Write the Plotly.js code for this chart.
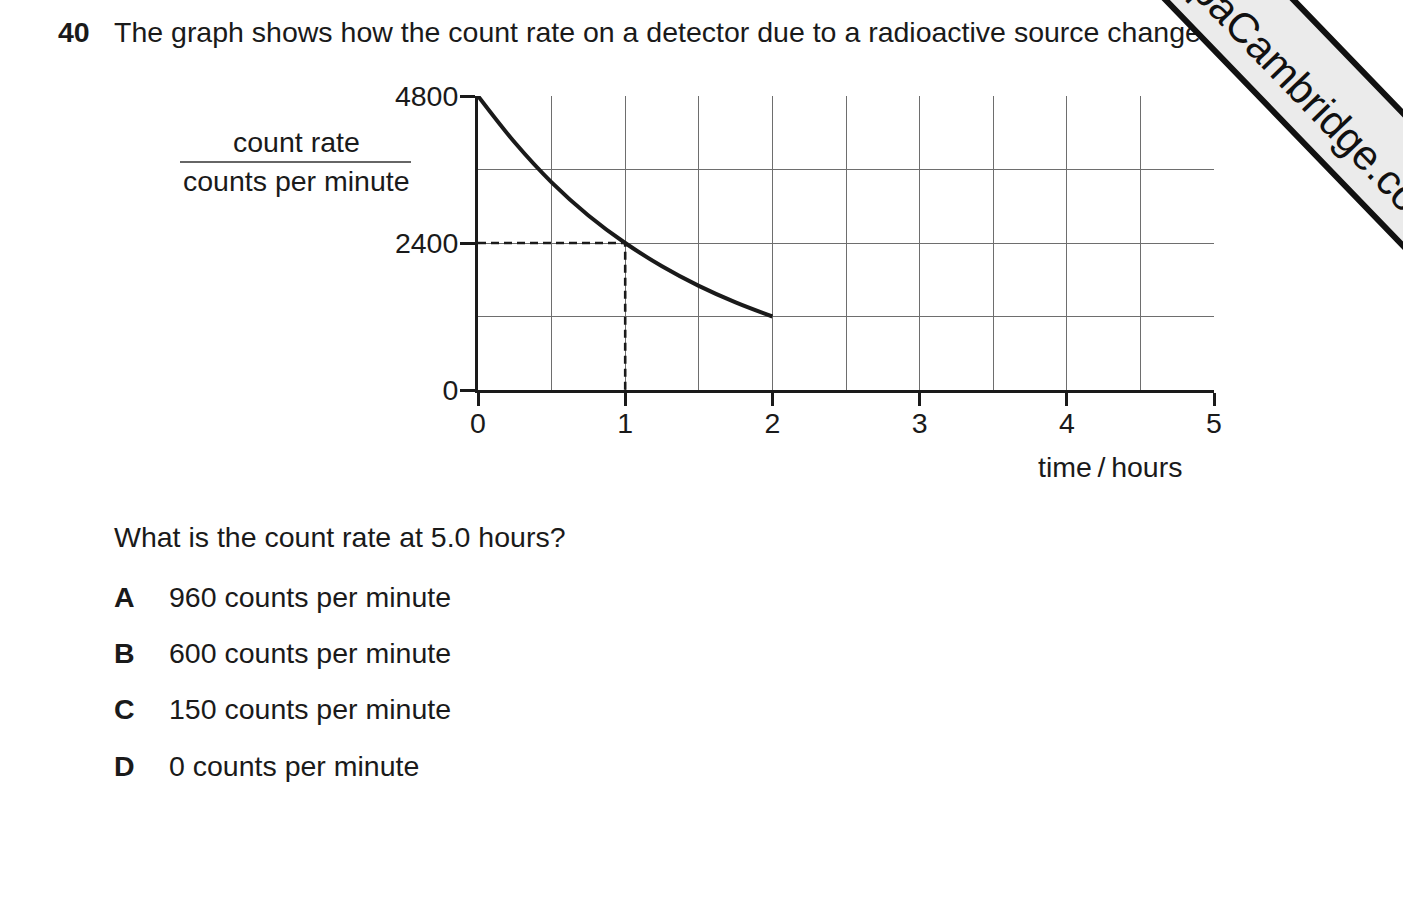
<!DOCTYPE html>
<html>
<head>
<meta charset="utf-8">
<script src="https://cdn.plot.ly/plotly-3.0.1.min.js"></script>
<style>
html,body{margin:0;padding:0;background:#fff;}
#chart{width:1403px;height:907px;}
</style>
</head>
<body>
<div id="chart"></div>
<script>
// Data
const timeHours = [0, 0.25, 0.5, 0.75, 1, 1.25, 1.5, 1.75, 2];
const countRate = [4800, 4040, 3390, 2850, 2400, 2020, 1700, 1430, 1200];
const guideX = [0, 1, 1];
const guideY = [2400, 2400, 0];
const xTickVals = [0, 1, 2, 3, 4, 5];
const yTickVals = [0, 2400, 4800];
const questionNumber = "40";
const questionText = "The graph shows how the count rate on a detector due to a radioactive source changes with";
const yLabelTop = "count rate";
const yLabelBottom = "counts per minute";
const xLabel = "time\u2009/\u2009hours";
const prompt = "What is the count rate at 5.0 hours?";
const optionLetters = ["A", "B", "C", "D"];
const optionTexts = ["960 counts per minute", "600 counts per minute", "150 counts per minute", "0 counts per minute"];
const watermark = "PapaCambridge.com";

// pixel -> paper helpers (plot area 478..1214 x, 96..390 y)
const L = 478, R = 1214, T = 96, B = 390;
const px = v => (v - L) / (R - L);
const py = v => (B - v) / (B - T);

const FONT = '"Liberation Sans", Arial, Helvetica, sans-serif';
const INK = '#1a1a1a';
const FS = 28.5;
const GRID = '#6e6e6e';

const traces = [
  {
    x: guideX, y: guideY, mode: 'lines', type: 'scatter',
    line: {color: INK, width: 2.6, dash: '8px,5px'}, hoverinfo: 'skip'
  },
  {
    x: timeHours, y: countRate, mode: 'lines', type: 'scatter',
    line: {color: INK, width: 4, shape: 'spline'}, hoverinfo: 'skip'
  }
];

const optYs = [597, 653, 709, 766];
const annotations = [
  {text: '<b>' + questionNumber + '</b>', x: px(57), y: py(32), xanchor: 'left', yanchor: 'middle'},
  {text: questionText, x: px(113), y: py(32), xanchor: 'left', yanchor: 'middle'},
  {text: yLabelTop, x: px(296), y: py(142), xanchor: 'center', yanchor: 'middle'},
  {text: yLabelBottom, x: px(296), y: py(181), xanchor: 'center', yanchor: 'middle'},
  {text: xLabel, x: px(1110), y: py(467), xanchor: 'center', yanchor: 'middle'},
  {text: prompt, x: px(113), y: py(537), xanchor: 'left', yanchor: 'middle'}
];
optionLetters.forEach((l, i) => {
  annotations.push({text: '<b>' + l + '</b>', x: px(113), y: py(optYs[i]), xanchor: 'left', yanchor: 'middle'});
  annotations.push({text: optionTexts[i], x: px(168), y: py(optYs[i]), xanchor: 'left', yanchor: 'middle'});
});
annotations.forEach(a => {
  a.xref = 'paper'; a.yref = 'paper'; a.showarrow = false;
  a.font = {family: FONT, size: FS, color: INK};
  a.borderpad = 0;
});
// watermark band (drawn after the title so it covers it)
annotations.push({
  text: '\u00a0', xref: 'paper', yref: 'paper', x: px(1333), y: py(107),
  xanchor: 'center', yanchor: 'middle', showarrow: false, textangle: 46,
  width: 700, height: 86, borderpad: 0, borderwidth: 6,
  bgcolor: '#ebebeb', bordercolor: '#111',
  font: {family: FONT, size: 20, color: '#ebebeb'}
});
// watermark text
annotations.push({
  text: watermark, xref: 'paper', yref: 'paper', x: px(1301), y: py(88),
  xanchor: 'center', yanchor: 'middle', showarrow: false, textangle: 46,
  font: {family: FONT, size: 42, color: '#111'}
});

const shapes = [
  {type: 'line', xref: 'paper', yref: 'paper', x0: px(180), x1: px(411), y0: py(162), y1: py(162),
   line: {color: '#333', width: 1.6}}
];

const layout = {
  width: 1403, height: 907,
  margin: {l: L, r: 1403 - R, t: T, b: 907 - B},
  paper_bgcolor: '#fff', plot_bgcolor: '#fff',
  showlegend: false,
  font: {family: FONT, size: FS, color: INK},
  xaxis: {
    range: [0, 5], tickvals: xTickVals, ticktext: xTickVals.map(String),
    showgrid: true, gridcolor: GRID, gridwidth: 1,
    minor: {dtick: 0.5, showgrid: true, gridcolor: GRID, gridwidth: 1, ticks: ''},
    showline: true, linecolor: INK, linewidth: 3,
    ticks: 'outside', ticklen: 13, tickwidth: 3, tickcolor: INK,
    ticklabelstandoff: -7,
    zeroline: false, fixedrange: true,
    tickfont: {family: FONT, size: FS, color: INK}
  },
  yaxis: {
    range: [0, 4800], tickvals: yTickVals, ticktext: yTickVals.map(String),
    showgrid: true, gridcolor: GRID, gridwidth: 1,
    minor: {dtick: 1200, showgrid: true, gridcolor: GRID, gridwidth: 1, ticks: ''},
    showline: true, linecolor: INK, linewidth: 3,
    ticks: 'outside', ticklen: 15, tickwidth: 3, tickcolor: INK,
    ticklabelstandoff: -4,
    zeroline: false, fixedrange: true,
    tickfont: {family: FONT, size: FS, color: INK}
  },
  annotations: annotations,
  shapes: shapes
};

Plotly.newPlot('chart', traces, layout, {staticPlot: true, displayModeBar: false});
</script>
</body>
</html>
